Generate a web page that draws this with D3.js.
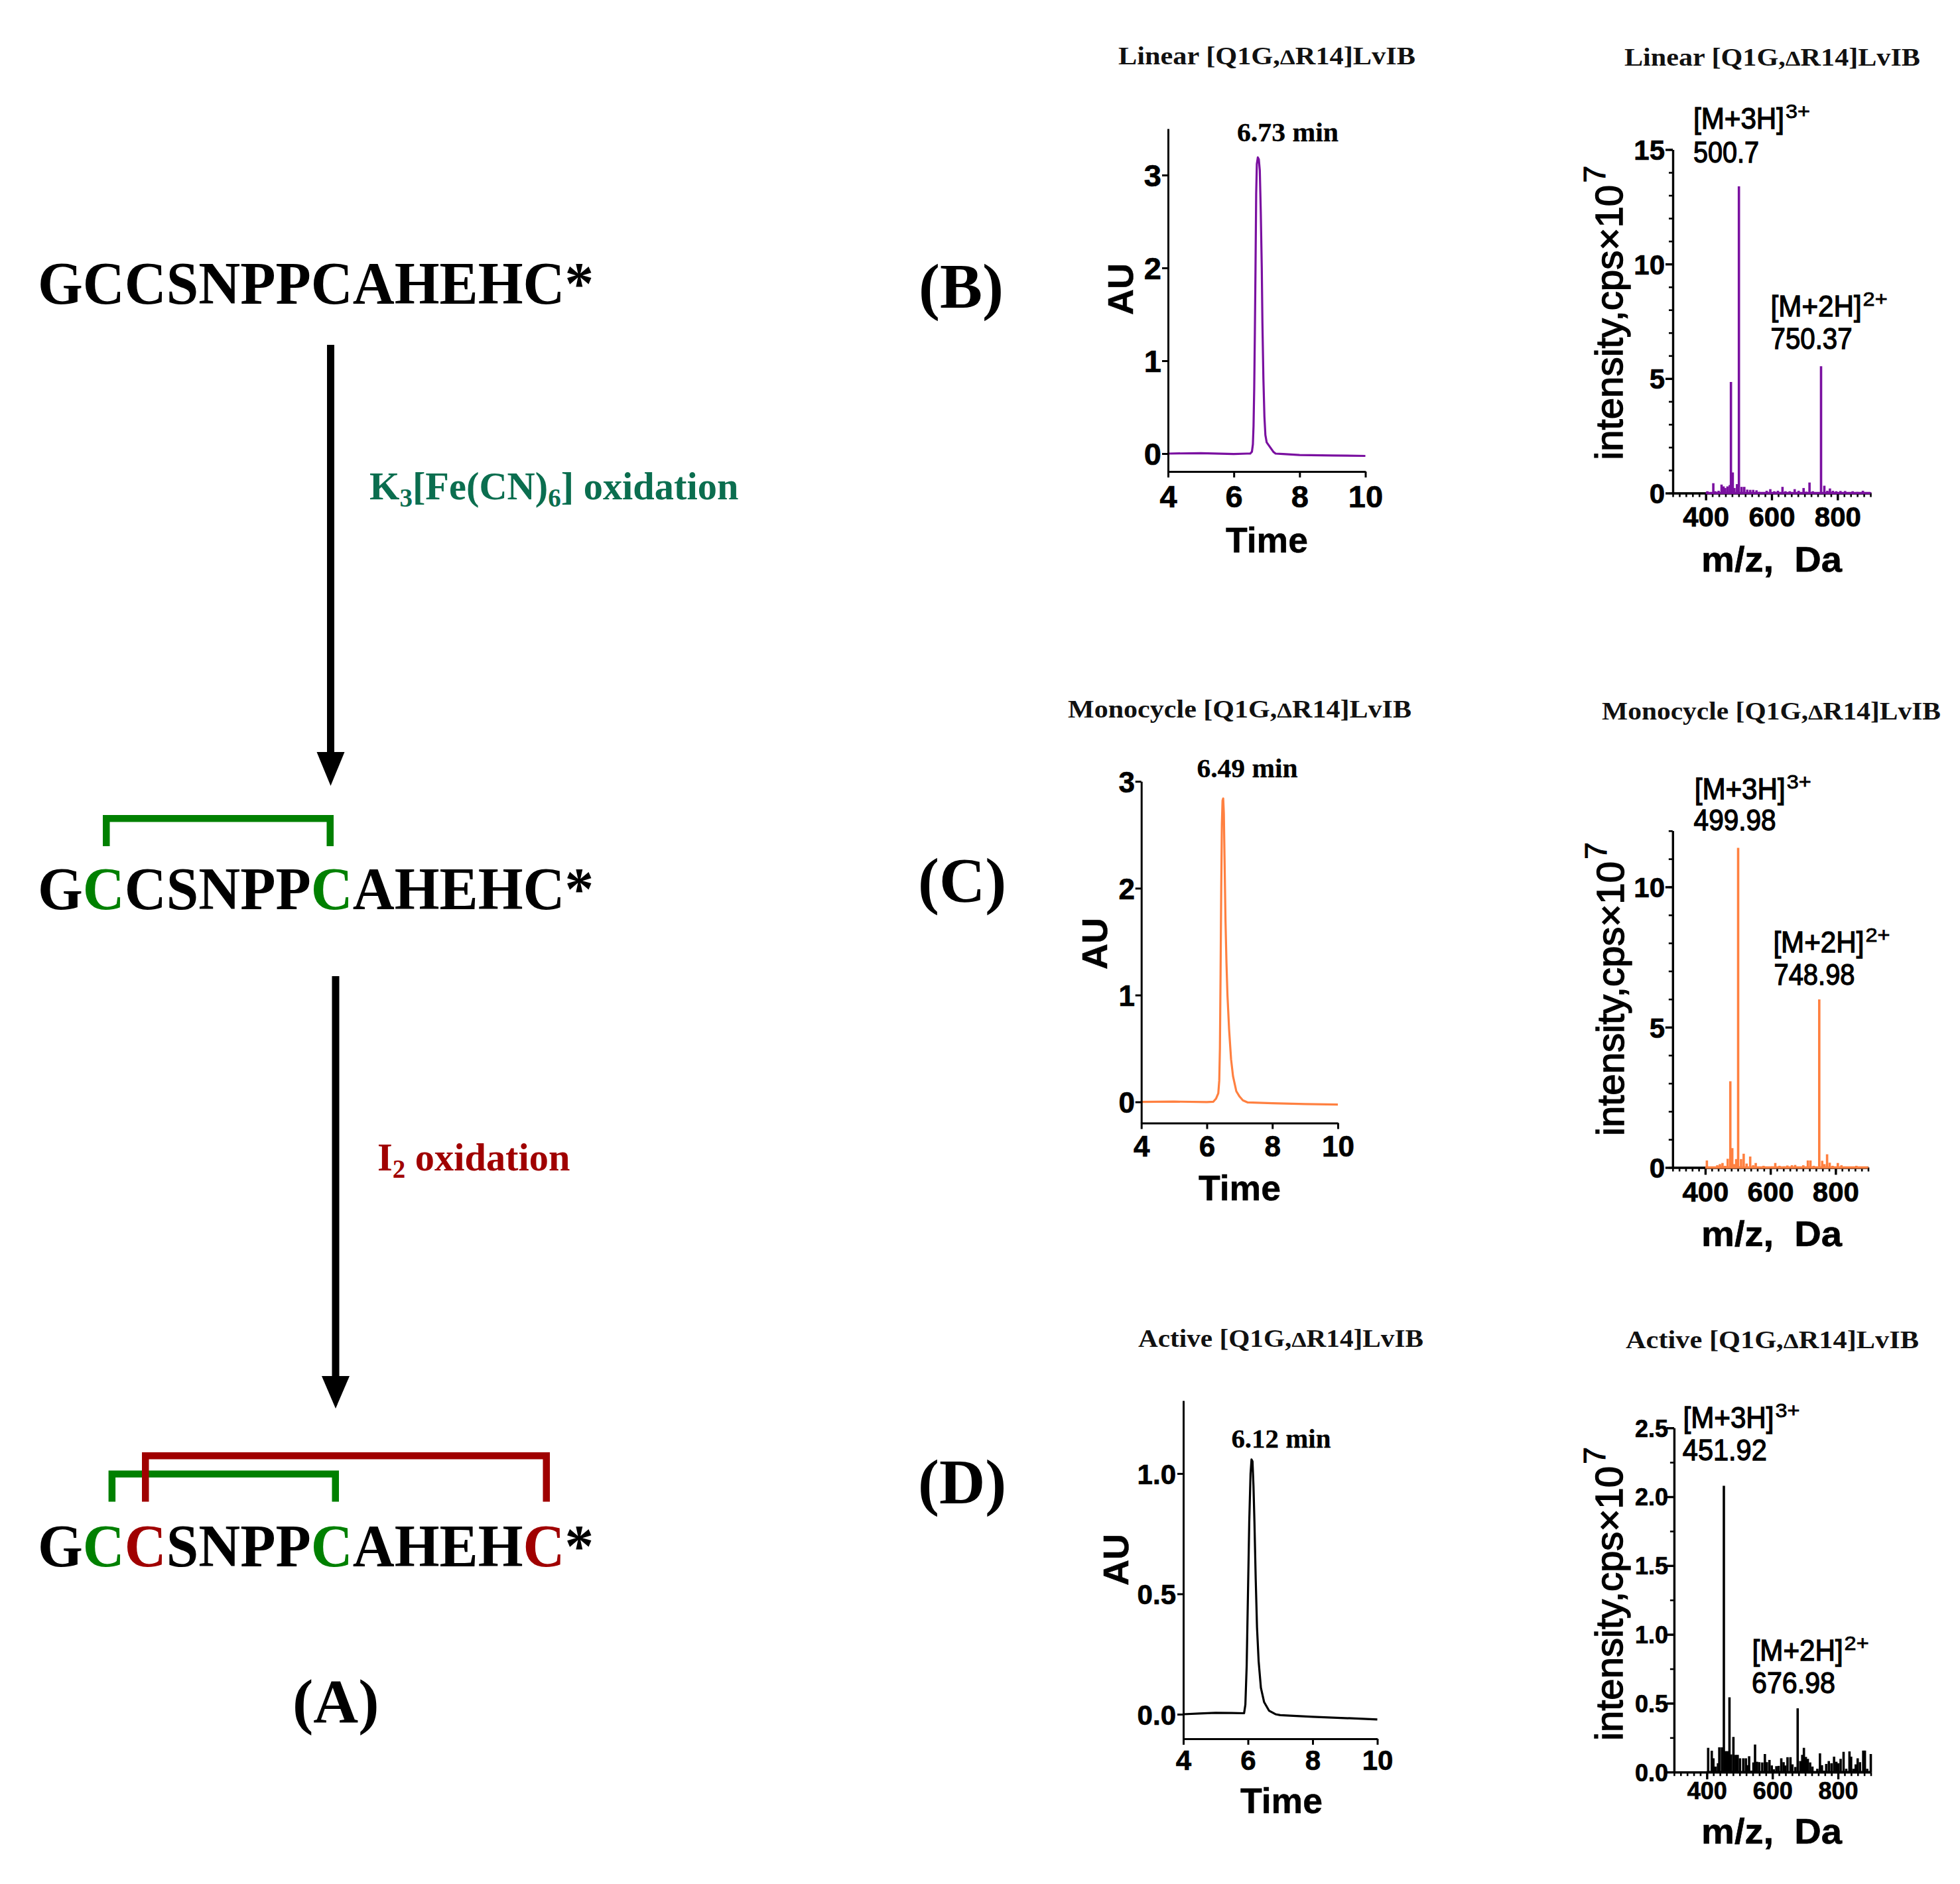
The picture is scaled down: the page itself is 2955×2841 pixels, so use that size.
<!DOCTYPE html>
<html><head><meta charset="utf-8">
<script src="https://cdnjs.cloudflare.com/ajax/libs/d3/7.8.5/d3.min.js"></script>
<style>html,body{margin:0;padding:0;background:#fff}svg{display:block}</style>
</head><body>
<script>
// ---------- DATA ----------
const sequenceLetters = ["G","C","C","S","N","P","P","C","A","H","E","H","C","*"];
const titleLinear = "Linear", titleMono = "Monocycle", titleActive = "Active";

const hplcLinearTime = [4,5,6,6.4,6.5,6.55,6.58,6.6,6.62,6.64,6.66,6.68,6.70,6.73,6.76,6.79,6.82,6.85,6.87,6.9,6.93,6.96,7.0,7.1,7.2,7.27,7.5,8,9,10];
const hplcLinearAU   = [0,0.005,-0.005,0,0,0.02,0.1,0.3,0.7,1.3,2.0,2.8,3.12,3.19,3.17,3.05,2.6,2.0,1.4,0.8,0.4,0.2,0.12,0.07,0.02,0,-0.005,-0.015,-0.02,-0.025];

const hplcMonoTime = [4,5,6,6.2,6.28,6.35,6.38,6.40,6.42,6.44,6.46,6.48,6.50,6.52,6.54,6.57,6.6,6.63,6.68,6.74,6.8,6.9,7,7.1,7.25,8,9,10];
const hplcMonoAU   = [0,0.003,-0.002,0.002,0.03,0.08,0.2,0.5,1.2,2.0,2.6,2.82,2.84,2.7,2.3,1.7,1.3,1.0,0.68,0.4,0.24,0.1,0.05,0.015,-0.005,-0.012,-0.02,-0.025];

const hplcActiveTime = [4,4.5,5,5.5,5.88,5.92,5.96,6.0,6.04,6.08,6.11,6.14,6.17,6.2,6.24,6.28,6.33,6.4,6.5,6.65,6.85,7,8,9,10];
const hplcActiveAU   = [0,0.003,0.006,0.005,0.004,0.04,0.2,0.5,0.8,1.0,1.058,1.05,0.95,0.8,0.56,0.36,0.22,0.11,0.05,0.015,0,-0.004,-0.011,-0.016,-0.022];

const msLinearMz = [405,423,429,439,448,454,459,466,473,476.5,482,487,495,500.7,509,517,526,535,544,554,562,574,585,596,608,619,633,642,655,670,682,697,705,715,725,735,750,760,769,777,786,796,809,823,833,846,860,877,890,900];
const msLinearI  = [.08,.43,.08,.1,.37,.29,.22,.29,.35,4.85,.9,.22,.39,13.39,.27,.27,.15,.14,.14,.12,.05,.03,.1,.17,.08,.1,.27,.08,.08,.17,.1,.22,.06,.46,.08,.03,5.54,.32,.1,.2,.1,.08,.09,.09,.04,.08,.05,.1,.04,.03];

const msMonoMz = [405,422,437,445,453,461,469,477,483,489,495,501,510,518,527,538,547,555,564,579,595,605,615,628,642,652,666,676,689,701,715,723,733,750,759,766,774,782,791,807,818,832,849,864,879,893,900];
const msMonoI  = [.25,.03,.08,.12,.16,.06,.31,3.07,.69,.12,.3,11.39,.3,.49,.14,.39,.08,.16,.03,.06,.02,.04,.16,.06,.04,.07,.08,.09,.02,.08,.25,.25,.06,5.99,.24,.12,.47,.17,.06,.16,.08,.02,.02,.06,.02,.02,.01];

const msActiveMz = [404,415,420,427,434,438,446,451.9,457,463,469,474,481,488,494,501,511,519,523,529,536,542,547,553,560,569,577,583,591,598,604,612,619,627,634,639,646,655,661,670,677,685,691,696,702,708,715,722,728,737,745,751,757,764,772,780,788,795,801,808,817,825,835,840,847,854,860,867,877,882,889,900];
const msActiveI  = [.176,.155,.1,.04,.064,.18,.18,2.08,.152,.152,.543,.128,.255,.125,.125,.1,.1,.1,.05,.115,.01,.07,.2,.075,.072,.07,.131,.072,.088,.048,.02,.043,.045,.1,.072,.048,.108,.108,.056,.037,.463,.08,.125,.176,.11,.096,.07,.04,.005,.024,.136,.05,.01,.059,.08,.064,.112,.075,.064,.096,.147,.024,.15,.112,.024,.056,.1,.072,.156,.156,.024,.131];

const timeTicks = [4,6,8,10];
const mzTicks = [400,600,800];
const mzMinorTicks = d3.range(300,901,20);

// ---------- HELPERS ----------
const W = 2955, H = 2841;
const svg = d3.select("body").append("svg").attr("width",W).attr("height",H).attr("viewBox",`0 0 ${W} ${H}`);
svg.append("rect").attr("width",W).attr("height",H).attr("fill","#fff");
const SERIF = "'Liberation Serif','Times New Roman',serif", SANS = "'Liberation Sans',Arial,sans-serif";
function put(parent,x,y,str,size,opt={}){
  const t = parent.append("text").attr("x",x).attr("y",y).text(str)
    .attr("font-family",opt.family||SANS).attr("font-size",size)
    .attr("font-weight",opt.weight||"bold").attr("fill",opt.fill||"#000")
    .attr("text-anchor",opt.anchor||"start");
  if(opt.width) t.attr("textLength",opt.width).attr("lengthAdjust","spacingAndGlyphs");
  if(opt.stroke) t.attr("stroke",opt.fill||"#000").attr("stroke-width",opt.stroke);
  return t;
}
function title(x,y,w,head){
  const t = svg.append("text").attr("x",x).attr("y",y).attr("font-family",SERIF).attr("font-size",37)
    .attr("font-weight","bold").attr("fill","#111").attr("textLength",w).attr("lengthAdjust","spacingAndGlyphs");
  t.append("tspan").text(head+" [Q1G,");
  t.append("tspan").attr("font-size",32).text("Δ");
  t.append("tspan").text("R14]LvIB");
}
function peakLabel(x,y,w,str){ put(svg,x,y,str,40,{family:SERIF,width:w,stroke:0.3}); }
function styleAxis(g,sw,size,color){
  g.selectAll("path,line").attr("stroke",color||"#000").attr("stroke-width",sw);
  g.selectAll("text").attr("font-family",SANS).attr("font-weight","bold").attr("font-size",size)
    .attr("fill","#000").attr("stroke","#000").attr("stroke-width",0.7);
}

function hplc(cfg){
  const x = d3.scaleLinear().domain([4,10]).range(cfg.xr);
  const y = d3.scaleLinear().domain(cfg.yd).range(cfg.yr);
  const line = d3.line().x((d,i)=>x(cfg.time[i])).y(d=>y(d));
  svg.append("path").attr("d",line(cfg.au)).attr("fill","none").attr("stroke",cfg.color)
     .attr("stroke-width",3.2).attr("stroke-linejoin","round");
  const gx = svg.append("g").attr("transform",`translate(0,${cfg.yr[0]})`)
    .call(d3.axisBottom(x).tickValues(timeTicks).tickSize(9).tickSizeOuter(0).tickFormat(d3.format("d")));
  styleAxis(gx,3,cfg.size);
  gx.selectAll("text").attr("dy",0).attr("y",cfg.xLabBase-cfg.yr[0]);
  const gy = svg.append("g").attr("transform",`translate(${cfg.xr[0]},0)`)
    .call(d3.axisLeft(y).tickValues(cfg.yt).tickSize(9).tickSizeOuter(0).tickFormat(d3.format(cfg.yf)));
  styleAxis(gy,3,cfg.size);
  gy.selectAll("text").attr("x",cfg.yLabRight-cfg.xr[0]).attr("dy","0.36em");
  put(svg,cfg.timeX,cfg.timeY,"Time",54,{width:124,stroke:0.5});
  svg.append("g").attr("transform",`translate(${cfg.auX},${cfg.auY}) rotate(-90)`)
    .call(g=>put(g,0,0,"AU",54,{anchor:"middle",stroke:0.5}));
}

function spectrum(cfg){
  const x = d3.scaleLinear().domain([300,900]).range(cfg.xr);
  const y = d3.scaleLinear().domain(cfg.yd).range(cfg.yr);
  const gx = svg.append("g").attr("transform",`translate(0,${cfg.yr[0]})`)
    .call(d3.axisBottom(x).tickValues(mzTicks).tickSize(11).tickSizeOuter(0).tickFormat(d3.format("d")));
  styleAxis(gx,3.4,cfg.size);
  gx.selectAll("text").attr("dy",0).attr("y",cfg.xLabBase-cfg.yr[0]);
  const gm = svg.append("g").attr("transform",`translate(0,${cfg.yr[0]})`)
    .call(d3.axisBottom(x).tickValues(mzMinorTicks).tickSize(6).tickSizeOuter(0).tickFormat(""));
  styleAxis(gm,2.6,cfg.size);
  const gy = svg.append("g").attr("transform",`translate(${cfg.xr[0]},0)`)
    .call(d3.axisLeft(y).tickValues(cfg.yt).tickSize(11).tickSizeOuter(0).tickFormat(d3.format(cfg.yf)));
  styleAxis(gy,3.4,cfg.size);
  gy.selectAll("text").attr("x",cfg.yLabRight-cfg.xr[0]).attr("dy","0.36em");
  const gyM = svg.append("g").attr("transform",`translate(${cfg.xr[0]},0)`)
    .call(d3.axisLeft(y).tickValues(cfg.ym).tickSize(6).tickSizeOuter(0).tickFormat(""));
  styleAxis(gyM,2.6,cfg.size);

  svg.append("g").selectAll("line").data(cfg.mz).join("line")
    .attr("x1",d=>x(d)).attr("x2",d=>x(d)).attr("y1",y(0))
    .attr("y2",(d,i)=>y(cfg.i[i])).attr("stroke",cfg.color).attr("stroke-width",3.6);
  svg.append("line").attr("x1",x(400)).attr("x2",x(900)).attr("y1",y(0)).attr("y2",y(0))
     .attr("stroke",cfg.color).attr("stroke-width",3.4);

  put(svg,cfg.xlX-1,cfg.xlY+1,"m/z,  Da",54,{width:212,stroke:0.6}).attr("xml:space","preserve");
  const g = svg.append("g").attr("transform",`translate(${cfg.ylX},${cfg.ylY+3}) rotate(-90)`);
  put(g,0,0,"intensity,cps×10",58,{weight:"normal",stroke:1.5,width:cfg.ylLen+3});
  put(g,cfg.ylLen+6,-26,"7",46,{weight:"normal",stroke:1,width:26});
  const ion=(xx,yy,label,sup,val,vx,vy,vw)=>{
    put(svg,xx,yy-5,label,44,{weight:"normal",stroke:1.3,width:137});
    put(svg,xx+139,yy-21,sup,30,{weight:"normal",stroke:0.8,width:37});
    put(svg,vx,vy+1,val,44,{weight:"normal",stroke:1.3,width:vw});
  };
  cfg.ions.forEach(a=>ion(...a));
}

// ---------- LEFT PANEL ----------
const GREEN="#008000", RED="#a00000";
function seq(y,colors){
  const t = svg.append("text").attr("x",57).attr("y",y).attr("font-family",SERIF).attr("font-size",90)
    .attr("font-weight","bold").attr("textLength",838).attr("lengthAdjust","spacingAndGlyphs");
  t.selectAll("tspan").data(sequenceLetters).join("tspan").text(d=>d).attr("fill",(d,i)=>colors[i]||"#000");
}
function arrow(x,y0,headY,tip,sw,hw){
  svg.append("line").attr("x1",x).attr("x2",x).attr("y1",y0).attr("y2",headY).attr("stroke","#000").attr("stroke-width",sw);
  svg.append("path").attr("d",d3.line()([[x-hw,headY],[x+hw,headY],[x,tip]])+"Z").attr("fill","#000");
}
function bracket(x0,x1,top,bot,color,sw){
  svg.append("path").attr("d",d3.line()([[x0+sw/2,bot],[x0+sw/2,top+sw/2],[x1-sw/2,top+sw/2],[x1-sw/2,bot]]))
    .attr("fill","none").attr("stroke",color).attr("stroke-width",sw);
}
seq(458,{});
seq(1370.7,{1:GREEN,7:GREEN});
seq(2362,{1:GREEN,2:RED,7:GREEN,12:RED});
arrow(498.5,520,1134,1185,11,21);
arrow(506,1472,2075,2124,11,21);
bracket(155,503,1229,1276,GREEN,10.5);
bracket(163.6,511,2217.5,2264.6,GREEN,10.5);
bracket(214,829,2190,2264.6,RED,10.5);

const k = svg.append("text").attr("x",557).attr("y",753).attr("font-family",SERIF).attr("font-size",58.4)
  .attr("font-weight","bold").attr("fill","#0b6e4f");
k.append("tspan").text("K");
k.append("tspan").attr("font-size",39).attr("dy",11).text("3");
k.append("tspan").attr("dy",-11).text("[Fe(CN)");
k.append("tspan").attr("font-size",39).attr("dy",11).text("6");
k.append("tspan").attr("dy",-11).text("] oxidation");
const i2 = svg.append("text").attr("x",569).attr("y",1765).attr("font-family",SERIF).attr("font-size",58.4)
  .attr("font-weight","bold").attr("fill",RED);
i2.append("tspan").text("I");
i2.append("tspan").attr("font-size",39).attr("dy",11).text("2");
i2.append("tspan").attr("dy",-11).text(" oxidation");

put(svg,441,2596.7,"(A)",94,{family:SERIF});
put(svg,1385,464,"(B)",96,{family:SERIF});
put(svg,1384,1360,"(C)",96,{family:SERIF});
put(svg,1384,2267,"(D)",96,{family:SERIF});

// ---------- TITLES ----------
title(1686,97,448,titleLinear);
title(2449,99,446,titleLinear);
title(1610,1082,518,titleMono);
title(2415,1085,511,titleMono);
title(1716,2031,430,titleActive);
title(2451,2033,442,titleActive);
peakLabel(1865,213,153,"6.73 min");
peakLabel(1804.5,1172,152,"6.49 min");
peakLabel(1856.4,2183,150,"6.12 min");

// ---------- HPLC ----------
hplc({time:hplcLinearTime,au:hplcLinearAU,color:"#7a10a0",xr:[1761,2058.5],yd:[-0.193,3.5],yr:[711,194],
  yt:[0,1,2,3],yf:"d",size:47,xLabBase:765,yLabRight:1751,timeX:1848,timeY:833,auX:1708,auY:436});
hplc({time:hplcMonoTime,au:hplcMonoAU,color:"#ff8040",xr:[1720.7,2017],yd:[-0.198,3],yr:[1693.5,1178.3],
  yt:[0,1,2,3],yf:"d",size:44,xLabBase:1744,yLabRight:1711,timeX:1807,timeY:1810,auX:1669,auY:1423});
hplc({time:hplcActiveTime,au:hplcActiveAU,color:"#000",xr:[1784,2076.5],yd:[-0.102,1.303],yr:[2622,2112],
  yt:[0,0.5,1],yf:".1f",size:42,xLabBase:2669,yLabRight:1773,timeX:1870,timeY:2734,auX:1701,auY:2352});

// ---------- SPECTRA ----------
spectrum({mz:msLinearMz,i:msLinearI,color:"#7a10a0",xr:[2522,2820],yd:[0,15],yr:[743.5,225.5],
  yt:[0,5,10,15],ym:d3.range(0,16),yf:"d",size:42,xLabBase:793.5,yLabRight:2510,
  xlX:2566,xlY:860.6,ylX:2445.7,ylY:690.8,ylLen:412,
  ions:[[2553,199,"[M+3H]","3+","500.7",2553,243.5,99],[2669.6,482,"[M+2H]","2+","750.37",2669.6,525,123]]});
spectrum({mz:msMonoMz,i:msMonoI,color:"#ff8040",xr:[2521.8,2816.5],yd:[0,12],yr:[1760.5,1252.8],
  yt:[0,5,10],ym:d3.range(0,13),yf:"d",size:42,xLabBase:1812,yLabRight:2510,
  xlX:2566,xlY:1877.5,ylX:2447.6,ylY:1710,ylLen:411,
  ions:[[2554.7,1209.6,"[M+3H]","3+","499.98",2553.6,1251,124],[2673.4,1441,"[M+2H]","2+","748.98",2674.5,1484,122]]});
spectrum({mz:msActiveMz,i:msActiveI,color:"#000",xr:[2523.9,2820.5],yd:[0,2.5],yr:[2672.2,2153.2],
  yt:[0,0.5,1,1.5,2,2.5],ym:d3.range(0,2.51,0.25),yf:".1f",size:36,xLabBase:2713,yLabRight:2515,
  xlX:2566,xlY:2779,ylX:2445.7,ylY:2622,ylLen:411,
  ions:[[2537.5,2158,"[M+3H]","3+","451.92",2536.8,2201,127],[2641.6,2509,"[M+2H]","2+","676.98",2641,2552,126]]});
</script>
</body></html>
